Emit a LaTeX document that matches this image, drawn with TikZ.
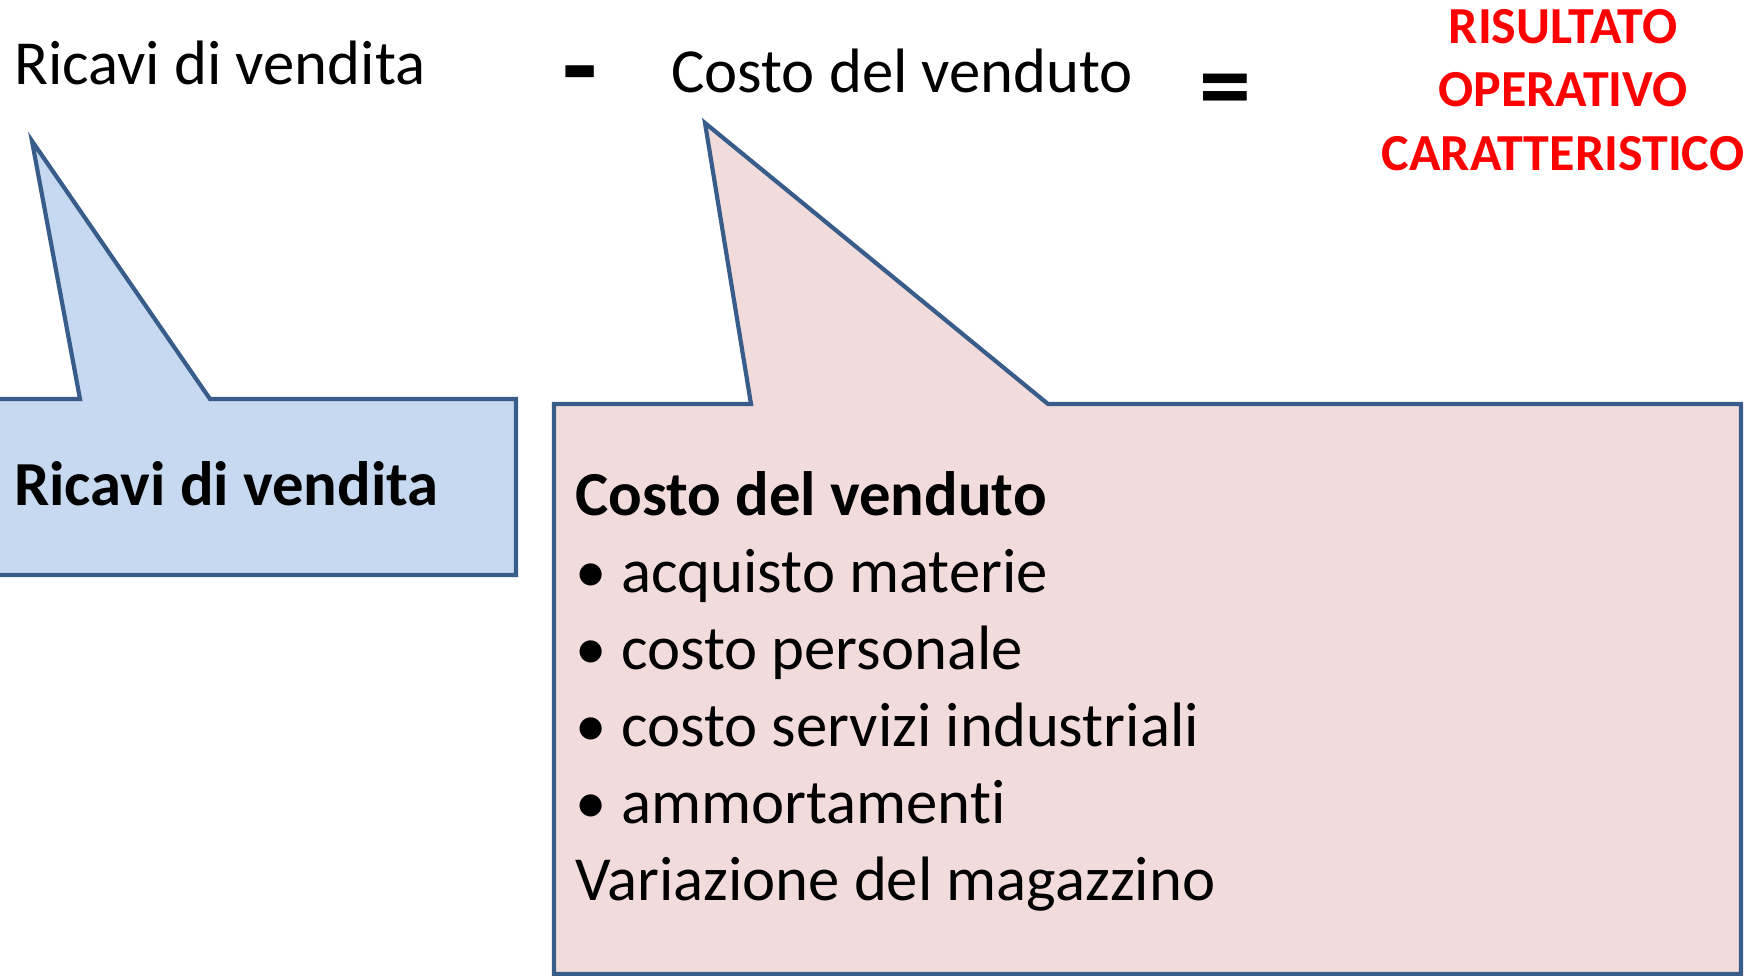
\documentclass[tikz,border=0pt]{standalone}
\usepackage{fontspec}
\setmainfont{Carlito}[Ligatures=NoCommon]
\definecolor{calloutline}{HTML}{385D8A}
\definecolor{bluefill}{HTML}{C6D9F1}
\definecolor{pinkfill}{HTML}{F2DCDB}
\definecolor{redtext}{HTML}{FF0000}
\newcommand{\bul}{\makebox[46pt][l]{•}}
\begin{document}
\begin{tikzpicture}[x=1pt,y=-1pt,
  callout/.style={draw=calloutline,line width=4.2pt,line join=miter},
  txt/.style={inner sep=0pt,anchor=base west,font=\fontsize{62.7}{77}\selectfont},
  boldtxt/.style={txt,font=\fontsize{62.7}{77}\selectfont\bfseries},
  optxt/.style={inner sep=0pt,anchor=base west,font=\fontsize{115}{120}\selectfont\bfseries},
  eqtxt/.style={inner sep=0pt,anchor=base west,font=\fontsize{104}{110}\selectfont\bfseries},
  redtxt/.style={inner sep=0pt,anchor=base,text=redtext,font=\fontsize{52}{63}\selectfont\bfseries}]
\useasboundingbox (0,0) rectangle (1754,976);
\clip (0,0) rectangle (1754,976);
\fill[white] (0,0) rectangle (1754,976);
% callouts
\draw[callout,fill=bluefill] (-10,399) -- (80,399) -- (32,141) -- (210,399) -- (516,399) -- (516,575) -- (-10,575) -- cycle;
\draw[callout,fill=pinkfill] (554,404) -- (751,404) -- (705,123) -- (1048,404) -- (1741,404) -- (1741,974) -- (554,974) -- cycle;
% top formula
\node[txt] (ricavi) at (14,85) {Ricavi di vendita};
\node[optxt] (minus) at (562,105) {-};
\node[txt] (costo) at (671,93) {Costo del venduto};
\node[eqtxt] (equals) at (1199,121) {=};
\node[redtxt] (r1) at (1563,44) {RISULTATO};
\node[redtxt] (r2) at (1563,107) {OPERATIVO};
\node[redtxt] (r3) at (1563,171) {CARATTERISTICO};
% blue box text
\node[boldtxt] (bluetitle) at (14,505) {Ricavi di vendita};
% pink box text
\node[boldtxt] (pinktitle) at (575,515) {Costo del venduto};
\node[txt] (l1) at (575,592) {\bul acquisto materie};
\node[txt] (l2) at (575,669) {\bul costo personale};
\node[txt] (l3) at (575,746) {\bul costo servizi industriali};
\node[txt] (l4) at (575,823) {\bul ammortamenti};
\node[txt] (l5) at (575,900) {Variazione del magazzino};
\end{tikzpicture}
\end{document}
